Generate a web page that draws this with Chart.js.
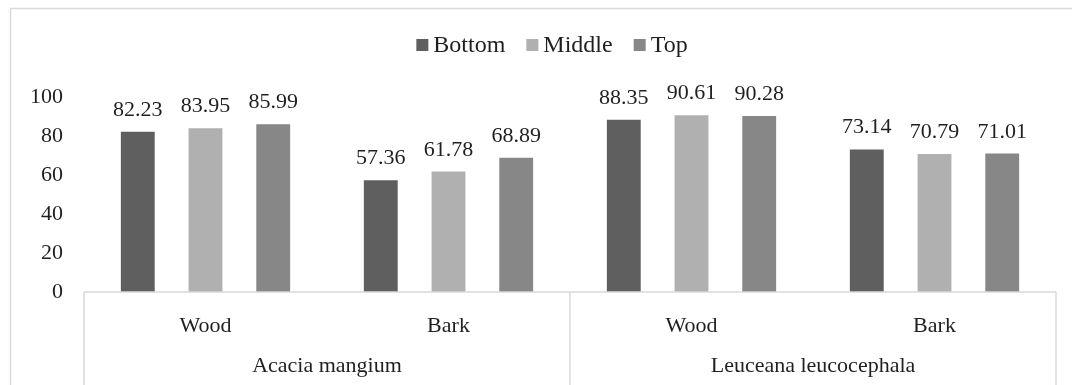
<!DOCTYPE html>
<html>
<head>
<meta charset="utf-8">
<script src="https://cdn.jsdelivr.net/npm/chart.js@4"></script>
<style>
  html, body { margin: 0; padding: 0; background: #fff; }
  #wrap { width: 1072px; height: 385px; }
</style>
</head>
<body>
<div id="wrap"><canvas id="chart" width="1072" height="385"></canvas></div>
<script>
const parts = ["Wood", "Bark", "Wood", "Bark"];
const species = ["Acacia mangium", "Leuceana leucocephala"];
const seriesNames = ["Bottom", "Middle", "Top"];
const bottomVals = [82.23, 57.36, 88.35, 73.14];
const middleVals = [83.95, 61.78, 90.61, 70.79];
const topVals = [85.99, 68.89, 90.28, 71.01];
const yTicks = [0, 20, 40, 60, 80, 100];

const colors = ["#5f5f5f", "#b0b0b0", "#878787"];
const FONT = "'Liberation Serif', 'Times New Roman', serif";
const TEXT = "#1f1f1f";
const LINE = "#d9d9d9";

// frame, multi-level category axis, data labels and legend
const extras = {
  id: "extras",
  beforeDraw(chart) {
    const { ctx } = chart;
    ctx.save();
    ctx.strokeStyle = LINE;
    ctx.lineWidth = 1.5;
    ctx.strokeRect(10.5, 8.5, 1200, 500);
    ctx.restore();
  },
  afterDraw(chart) {
    const { ctx, chartArea, scales } = chart;
    const x = scales.x;
    const axisY = chartArea.bottom;
    const bottom = chart.height;

    ctx.save();
    ctx.strokeStyle = LINE;
    ctx.lineWidth = 1.5;
    ctx.beginPath();
    ctx.moveTo(chartArea.left, axisY);
    ctx.lineTo(chartArea.right, axisY);
    const mid = (x.getPixelForValue(1) + x.getPixelForValue(2)) / 2;
    [chartArea.left, mid, chartArea.right].forEach(px => {
      ctx.moveTo(px, axisY);
      ctx.lineTo(px, bottom);
    });
    ctx.stroke();

    ctx.fillStyle = TEXT;
    ctx.font = "22px " + FONT;
    ctx.textAlign = "center";
    ctx.textBaseline = "alphabetic";
    parts.forEach((p, i) => {
      ctx.fillText(p, x.getPixelForValue(i), axisY + 40);
    });
    const spans = [[chartArea.left, mid], [mid, chartArea.right]];
    species.forEach((s, i) => {
      ctx.fillText(s, (spans[i][0] + spans[i][1]) / 2, axisY + 80);
    });

    // data labels
    chart.data.datasets.forEach((ds, di) => {
      const meta = chart.getDatasetMeta(di);
      meta.data.forEach((bar, i) => {
        ctx.fillText(ds.data[i].toFixed(2), bar.x, bar.y - 16);
      });
    });

    // legend
    ctx.font = "24px " + FONT;
    ctx.textAlign = "left";
    ctx.textBaseline = "middle";
    const box = 12, gap = 5, itemGap = 21;
    const widths = chart.data.datasets.map(ds => ctx.measureText(ds.label).width);
    const total = widths.reduce((a, w) => a + box + gap + w, 0) + itemGap * (widths.length - 1);
    let lx = 552 - total / 2;
    const ly = 45;
    chart.data.datasets.forEach((ds, di) => {
      ctx.fillStyle = ds.backgroundColor;
      ctx.fillRect(lx, ly - box / 2, box, box);
      ctx.fillStyle = TEXT;
      ctx.fillText(ds.label, lx + box + gap, ly + 1);
      lx += box + gap + widths[di] + itemGap;
    });
    ctx.restore();
  }
};

new Chart(document.getElementById("chart"), {
  type: "bar",
  data: {
    labels: parts,
    datasets: [
      { label: seriesNames[0], data: bottomVals, backgroundColor: colors[0] },
      { label: seriesNames[1], data: middleVals, backgroundColor: colors[1] },
      { label: seriesNames[2], data: topVals, backgroundColor: colors[2] }
    ]
  },
  plugins: [extras],
  options: {
    responsive: false,
    animation: false,
    devicePixelRatio: 1,
    layout: { padding: { top: 97, left: 0, right: 16, bottom: 0 } },
    datasets: {
      bar: { categoryPercentage: 0.836, barPercentage: 0.5 }
    },
    plugins: {
      legend: { display: false },
      tooltip: { enabled: false }
    },
    scales: {
      x: {
        grid: { display: false },
        border: { display: false },
        ticks: { display: false },
        afterFit(scale) { scale.height = 93; }
      },
      y: {
        min: 0,
        max: 100,
        afterBuildTicks(scale) { scale.ticks = yTicks.map(v => ({ value: v })); },
        afterFit(scale) { scale.width = 84; },
        grid: { display: false, drawTicks: false },
        border: { display: false },
        ticks: {
          padding: 21,
          color: TEXT,
          font: { family: FONT, size: 22 }
        }
      }
    }
  }
});
</script>
</body>
</html>
